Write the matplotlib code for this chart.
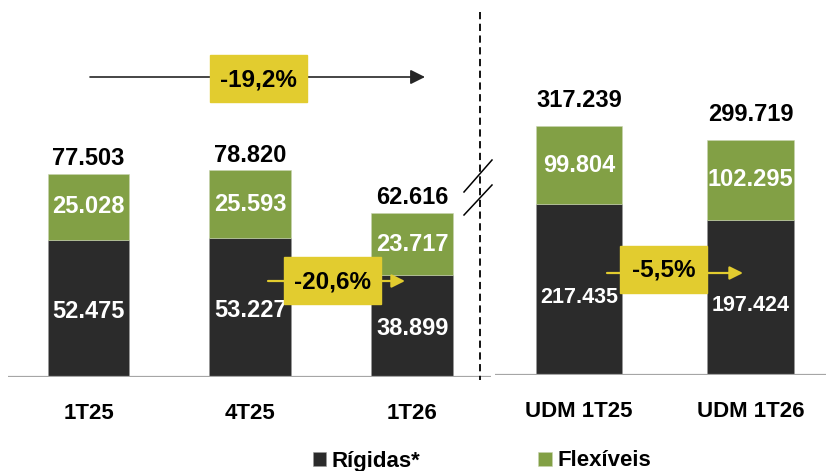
import matplotlib.pyplot as plt
from matplotlib.patches import Rectangle

# valores em milhares
categories = ["1T25", "4T25", "1T26"]
rigidas = [52.475, 53.227, 38.899]
flexiveis = [25.028, 25.593, 23.717]
totais = [77.503, 78.820, 62.616]

udm_categories = ["UDM 1T25", "UDM 1T26"]
udm_rigidas = [217.435, 197.424]
udm_flexiveis = [99.804, 102.295]
udm_totais = [317.239, 299.719]

var_ano = "-19,2%"
var_1t26 = "-20,6%"
var_udm = "-5,5%"

DARK = "#2b2b2b"
GREEN = "#82a045"
YELLOW = "#e2cc2f"
GRID = "#a6a6a6"
W, H = 826, 471

plt.rcParams["font.family"] = ["Liberation Sans", "DejaVu Sans"]
plt.rcParams["font.weight"] = "bold"

fig = plt.figure(figsize=(W / 100, H / 100), dpi=100)


def px_axes(x0, y_top, x1, y_base):
    return fig.add_axes([x0 / W, (H - y_base) / H, (x1 - x0) / W, (y_base - y_top) / H])


def stacked(ax, cats, low, high, tot, ylim, xlim, top_off, low_size, low_shift):
    x = list(range(len(cats)))
    b1 = ax.bar(x, low, width=0.506, color=DARK, edgecolor="#9a9a9a", linewidth=0.4,
                label="Rígidas*")
    b2 = ax.bar(x, high, bottom=low, width=0.506, color=GREEN, edgecolor="#c8d4b0",
                linewidth=0.4, label="Flexíveis")
    ax.set_xlim(*xlim)
    ax.set_ylim(0, ylim)
    ax.axhline(0, color=GRID, lw=1.6, zorder=3)
    for s in ax.spines.values():
        s.set_visible(False)
    ax.set_yticks([])
    ax.set_xticks(x, cats, fontsize=16, fontweight="bold")
    ax.tick_params(axis="x", length=0, pad=19)
    for i in x:
        ax.annotate(f"{low[i]:.3f}", (i, low[i] / 2), xytext=(0, low_shift),
                    textcoords="offset points", ha="center", va="center",
                    color="white", fontsize=low_size, fontweight="bold")
        ax.text(i, low[i] + high[i] / 2, f"{high[i]:.3f}", ha="center", va="center",
                color="white", fontsize=17, fontweight="bold")
        ax.annotate(f"{tot[i]:.3f}", (i, tot[i]), xytext=(0, top_off),
                    textcoords="offset points", ha="center", va="center",
                    color="black", fontsize=17, fontweight="bold")
    return b1, b2


ax1 = px_axes(8, 0, 491, 377)
h1, h2 = stacked(ax1, categories, rigidas, flexiveis, totais, 377 / 2.62,
                 (-0.497, 2.485), 11, 17, -2)
ax2 = px_axes(495, 0, 826, 375)
stacked(ax2, udm_categories, udm_rigidas, udm_flexiveis, udm_totais, 375 / 0.785,
        (-0.49, 1.44), 18, 15.5, -6)

# camada de anotações em pixels
ov = fig.add_axes([0, 0, 1, 1], zorder=10)
ov.set_xlim(0, W)
ov.set_ylim(H, 0)
ov.axis("off")
ov.patch.set_alpha(0)

# divisória e quebra
ov.plot([480, 480], [12, 380], color="black", lw=1.3, dashes=(4, 2.5))
ov.plot([464, 492], [192, 160], color="black", lw=1.1)
ov.plot([464, 492], [215, 185], color="black", lw=1.1)


def var_arrow(x0, x1, y, box, text, color, lw, ms):
    ov.annotate("", xy=(x1, y), xytext=(x0, y),
                arrowprops=dict(arrowstyle="-|>", color=color, lw=lw, mutation_scale=ms,
                                shrinkA=0, shrinkB=0))
    bx0, by0, bx1, by1 = box
    ov.add_patch(Rectangle((bx0, by0), bx1 - bx0, by1 - by0, color=YELLOW, zorder=5))
    ov.text((bx0 + bx1) / 2, (by0 + by1) / 2 + 1, text, ha="center", va="center",
            fontsize=17.5, fontweight="bold", color="black", zorder=6)


var_arrow(90, 425, 77, (210, 55, 307, 102), var_ano, "#262626", 1.2, 22)
var_arrow(268, 405, 281, (284, 257, 381, 304), var_1t26, YELLOW, 1.6, 20)
var_arrow(607, 743, 273, (620, 246, 707, 293), var_udm, YELLOW, 1.6, 20)

fig.legend([h1, h2], ["Rígidas*", "Flexíveis"], loc="center", ncol=2,
           bbox_to_anchor=(482 / W, (H - 461) / H), frameon=False,
           handlelength=0.6, handleheight=0.6, handletextpad=0.25, columnspacing=5.3,
           prop={"weight": "bold", "size": 16})

fig.savefig("out.png", dpi=100)
